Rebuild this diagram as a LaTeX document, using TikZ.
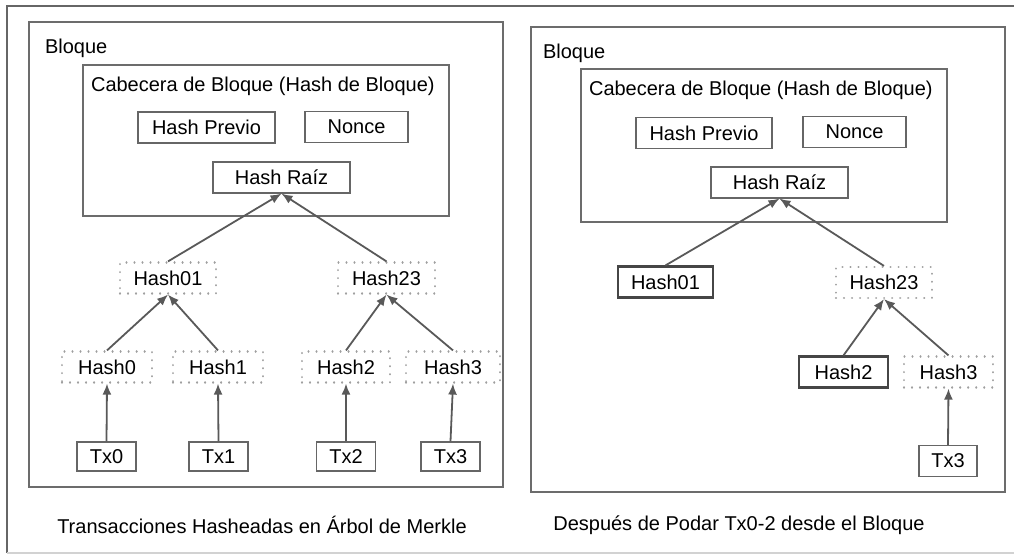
\documentclass[tikz,border=0pt]{standalone}
\usepackage{fontspec}
\setmainfont{Liberation Sans}
\usetikzlibrary{arrows.meta}

\begin{document}
\begin{tikzpicture}[x=0.5pt, y=-0.5pt, font=\fontsize{10}{12}\selectfont,
    frame/.style={draw=gray!85!black, line width=1pt},
    box/.style={draw=gray!80!black, line width=0.6pt, inner sep=0pt, minimum height=15.5pt},
    boxw/.style={minimum width=#1*0.5pt},
    hashbox/.style={box, draw=gray!75, line width=1.1pt, dash pattern=on 0.01pt off 4pt, line cap=round},
    keptbox/.style={box, draw=gray!55!black, line width=1.1pt},
    link/.style={draw=gray!70!black, line width=0.9pt, -{Latex[length=5.5pt,width=4.5pt]}}]
    \useasboundingbox (0,0) rectangle (1014,554);

    % Outer frame
    \draw[gray!80!black, line width=1pt] (1014,6) -- (7,6) -- (7,553);
    \draw[gray!35, line width=1pt] (7,553) -- (1014,553);

    % Left block: full Merkle tree
    \draw[frame] (29,22) rectangle (503,487);
    \node[anchor=west] (blockL) at (38,48) {Bloque};
    \draw[frame, line width=0.8pt] (83,65) rectangle (449,216);
    \node[anchor=west] (headL) at (84,86) {Cabecera de Bloque (Hash de Bloque)};
    \node[box, boxw=137] (prevL) at (206.5,127.5) {Hash Previo};
    \node[box, boxw=103] (nonceL) at (356.5,127) {Nonce};
    \node[box, boxw=137] (rootL) at (281.5,177.5) {Hash Raíz};

    \node[hashbox, boxw=96] (h01L) at (168,278) {Hash01};
    \node[hashbox, boxw=97] (h23L) at (386.5,278) {Hash23};

    \foreach \i/\x/\w in {0/107/90, 1/218/90, 2/346/88, 3/453/94} {
        \node[hashbox, boxw=\w] (hL\i) at (\x,367) {Hash\i};
    }
    \foreach \i/\x in {0/106.5, 1/218.5, 2/346, 3/450.5} {
        \node[box, boxw=59, minimum height=14.5pt] (txL\i) at (\x,456.5) {Tx\i};
        \draw[link] (txL\i.north) -- (hL\i.south);
    }

    \draw[link] (hL0.north) -- (h01L.south);
    \draw[link] (hL1.north) -- (h01L.south);
    \draw[link] (hL2.north) -- (h23L.south);
    \draw[link] (hL3.north) -- (h23L.south);
    \draw[link] (h01L.north) -- (rootL.south);
    \draw[link] (h23L.north) -- (rootL.south);

    \node (capL) at (262,525) {Transacciones Hasheadas en Árbol de Merkle};

    % Right block: after pruning
    \draw[frame] (531,27) rectangle (1005,492);
    \node[anchor=west] (blockR) at (536,53) {Bloque};
    \draw[frame, line width=0.8pt] (581,69) rectangle (947,222);
    \node[anchor=west] (headR) at (582,90) {Cabecera de Bloque (Hash de Bloque)};
    \node[box, boxw=136] (prevR) at (704,133) {Hash Previo};
    \node[box, boxw=103] (nonceR) at (854.5,132) {Nonce};
    \node[box, boxw=137] (rootR) at (779.5,182.5) {Hash Raíz};

    \node[keptbox, boxw=95] (h01R) at (665.5,282) {Hash01};
    \node[hashbox, boxw=96] (h23R) at (884,282.5) {Hash23};
    \node[keptbox, boxw=89] (hR2) at (843.5,372) {Hash2};
    \node[hashbox, boxw=89] (hR3) at (948.5,372) {Hash3};
    \node[box, boxw=58] (txR3) at (948,461) {Tx3};

    \draw[link] (txR3.north) -- (hR3.south);
    \draw[link] (hR2.north) -- (h23R.south);
    \draw[link] (hR3.north) -- (h23R.south);
    \draw[link] (h01R.north) -- (rootR.south);
    \draw[link] (h23R.north) -- (rootR.south);

    \node (capR) at (739,525) {Después de Podar Tx0-2 desde el Bloque};
\end{tikzpicture}
\end{document}
